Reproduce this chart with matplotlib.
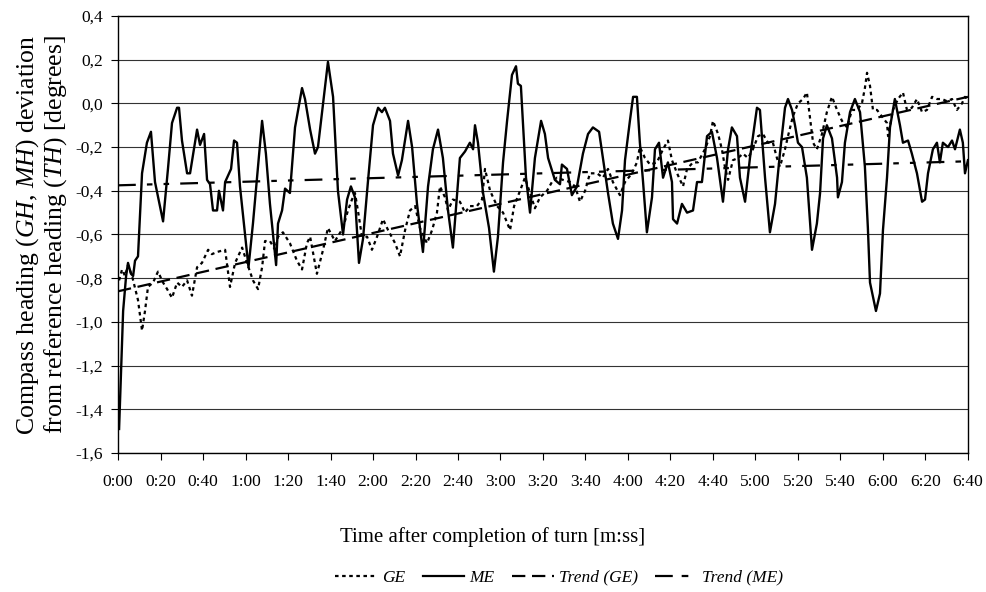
import numpy as np
import matplotlib
matplotlib.use("Agg")
import matplotlib.pyplot as plt
from matplotlib.ticker import FuncFormatter
from matplotlib.lines import Line2D

plt.rcParams['font.family'] = 'Liberation Serif'
plt.rcParams['mathtext.fontset'] = 'custom'
plt.rcParams['mathtext.rm'] = 'Liberation Serif'
plt.rcParams['mathtext.it'] = 'Liberation Serif:italic'

# ME series (time in s, deviation in degrees)
me_t = [0.5, 2.4, 3.8, 4.7, 6.1, 7.1, 8.0, 9.4, 11.3, 13.6, 15.5, 17.4, 21.2, 23.5, 25.4,
        27.8, 28.7, 30.1, 32.5, 33.9, 37.2, 38.6, 40.5, 41.9, 43.3, 44.7, 46.6, 47.5, 49.4,
        50.4, 53.2, 54.6, 56.0, 57.4, 61.4, 63.5, 67.8, 69.6, 71.5, 74.4, 75.3, 77.2, 78.6,
        80.9, 83.3, 86.6, 88.0, 90.4, 92.7, 94.1, 96.5, 98.8, 101.2, 103.5, 105.9, 107.8,
        109.6, 111.5, 113.4, 115.3, 117.6, 120.0, 122.4, 124.2, 125.6, 128.0, 129.4, 131.8,
        133.6, 136.5, 138.4, 140.7, 143.5, 145.9, 148.2, 150.6, 152.9, 155.3, 157.6, 160.9,
        163.3, 165.6, 167.1, 168.0, 169.4, 171.8, 174.6, 176.9, 178.8, 181.2, 183.1, 185.4,
        187.3, 188.2, 189.6, 192.0, 193.9, 196.2, 199.1, 200.9, 202.4, 205.6, 208.0, 208.9,
        211.3, 213.6, 216.0, 218.8, 221.2, 223.5, 226.4, 228.2, 230.6, 232.9, 235.3, 237.2,
        238.6, 240.9, 242.4, 244.2, 245.6, 247.1, 248.9, 251.3, 252.7, 254.6, 256.5, 258.8,
        260.7, 261.2, 263.1, 265.4, 267.8, 270.6, 272.5, 274.8, 277.2, 279.5, 281.9, 284.7,
        287.1, 288.9, 291.3, 292.7, 295.1, 297.4, 300.7, 302.1, 304.5, 306.8, 309.2, 311.5,
        313.9, 315.3, 317.2, 318.6, 320.0, 321.9, 324.2, 326.6, 328.9, 330.4, 331.8, 333.6,
        336.0, 338.4, 338.8, 340.7, 342.1, 344.5, 346.8, 349.2, 351.5, 352.9, 353.9, 356.7,
        358.6, 360.0, 361.9, 363.3, 365.6, 368.0, 369.4, 371.8, 373.6, 376.0, 378.4, 379.8,
        381.2, 383.5, 385.4, 386.8, 388.2, 390.6, 392.5, 393.9, 396.2, 397.6, 398.6, 400.0]
me_v = [-1.49, -0.95, -0.79, -0.73, -0.78, -0.79, -0.72, -0.70, -0.32, -0.18, -0.13, -0.36,
        -0.54, -0.30, -0.09, -0.02, -0.02, -0.17, -0.32, -0.32, -0.12, -0.19, -0.14, -0.35,
        -0.37, -0.49, -0.49, -0.40, -0.49, -0.36, -0.30, -0.17, -0.18, -0.38, -0.75, -0.55,
        -0.08, -0.23, -0.46, -0.74, -0.55, -0.49, -0.39, -0.41, -0.11, 0.07, 0.02, -0.12,
        -0.23, -0.20, 0.00, 0.19, 0.03, -0.40, -0.60, -0.44, -0.38, -0.43, -0.73, -0.62,
        -0.36, -0.10, -0.02, -0.04, -0.02, -0.08, -0.23, -0.33, -0.26, -0.08, -0.20, -0.46,
        -0.68, -0.38, -0.21, -0.12, -0.25, -0.49, -0.66, -0.25, -0.22, -0.18, -0.21, -0.10,
        -0.18, -0.41, -0.57, -0.77, -0.61, -0.27, -0.08, 0.13, 0.17, 0.09, 0.08, -0.34, -0.50,
        -0.25, -0.08, -0.14, -0.25, -0.35, -0.37, -0.28, -0.30, -0.42, -0.38, -0.23, -0.14,
        -0.11, -0.13, -0.25, -0.41, -0.55, -0.62, -0.49, -0.26, -0.08, 0.03, 0.03, -0.18,
        -0.36, -0.59, -0.43, -0.21, -0.18, -0.34, -0.27, -0.36, -0.53, -0.55, -0.46, -0.50,
        -0.49, -0.36, -0.36, -0.15, -0.13, -0.25, -0.45, -0.21, -0.11, -0.15, -0.34, -0.45,
        -0.25, -0.02, -0.03, -0.34, -0.59, -0.46, -0.23, -0.02, 0.02, -0.03, -0.10, -0.18,
        -0.20, -0.34, -0.67, -0.55, -0.41, -0.16, -0.10, -0.16, -0.34, -0.43, -0.36, -0.18,
        -0.04, 0.02, -0.04, -0.29, -0.57, -0.82, -0.95, -0.87, -0.58, -0.34, -0.11, 0.02,
        -0.10, -0.18, -0.17, -0.23, -0.32, -0.45, -0.44, -0.32, -0.21, -0.18, -0.27, -0.18,
        -0.20, -0.17, -0.21, -0.12, -0.18, -0.32, -0.26]

# GE series
ge_t = [0.5, 1.9, 3.3, 4.7, 6.6, 9.4, 11.3, 12.7, 14.1, 16.5, 18.8, 21.2, 23.1, 25.4, 27.8,
        30.1, 32.5, 34.8, 37.2, 39.5, 42.4, 44.2, 46.6, 50.4, 52.7, 55.1, 58.4, 60.7, 63.5,
        65.9, 67.8, 69.2, 71.5, 73.9, 75.3, 77.6, 80.9, 84.2, 86.6, 88.9, 90.4, 93.6, 96.5,
        98.8, 102.1, 105.9, 108.2, 110.1, 111.5, 112.9, 114.8, 117.2, 119.5, 121.9, 124.7,
        127.1, 130.4, 132.7, 135.1, 137.4, 139.8, 142.1, 145.4, 147.8, 150.1, 151.5, 153.9,
        155.3, 157.6, 160.9, 163.3, 165.6, 168.9, 171.3, 172.7, 175.1, 178.4, 181.2, 184.5,
        186.4, 189.2, 191.5, 193.9, 196.2, 198.6, 201.9, 204.2, 206.6, 209.4, 212.7, 215.1,
        217.4, 219.8, 222.1, 225.4, 228.2, 230.6, 232.9, 236.2, 238.6, 241.9, 244.2, 245.6,
        248.0, 250.4, 253.6, 256.5, 258.8, 260.7, 263.1, 265.9, 267.8, 270.6, 272.9, 276.2,
        278.6, 280.0, 282.4, 284.2, 285.6, 287.1, 289.4, 291.8, 294.1, 296.5, 298.8, 301.2,
        303.5, 305.9, 308.2, 310.1, 311.5, 313.9, 315.3, 317.6, 320.0, 322.4, 324.2, 325.6,
        327.1, 328.9, 331.3, 333.6, 336.0, 338.4, 340.7, 343.1, 345.4, 347.8, 350.1, 351.5,
        352.5, 353.9, 355.3, 357.2, 359.5, 361.9, 362.4, 364.7, 367.1, 369.4, 371.3, 373.6,
        376.0, 378.4, 380.7, 383.1, 385.4, 387.8, 390.1, 392.5, 394.8, 397.2, 398.6, 400.0]
ge_v = [-0.81, -0.76, -0.79, -0.74, -0.79, -0.90, -1.04, -0.95, -0.84, -0.82, -0.77, -0.82,
        -0.85, -0.89, -0.82, -0.84, -0.81, -0.88, -0.75, -0.73, -0.67, -0.69, -0.68, -0.67,
        -0.84, -0.73, -0.66, -0.73, -0.81, -0.85, -0.75, -0.63, -0.63, -0.67, -0.61, -0.59,
        -0.64, -0.72, -0.76, -0.64, -0.61, -0.78, -0.67, -0.57, -0.63, -0.57, -0.49, -0.44,
        -0.41, -0.49, -0.61, -0.61, -0.67, -0.61, -0.53, -0.58, -0.64, -0.70, -0.58, -0.49,
        -0.47, -0.57, -0.64, -0.58, -0.50, -0.38, -0.43, -0.49, -0.44, -0.45, -0.50, -0.47,
        -0.47, -0.44, -0.30, -0.40, -0.47, -0.50, -0.58, -0.47, -0.40, -0.34, -0.41, -0.48,
        -0.43, -0.40, -0.36, -0.34, -0.35, -0.36, -0.38, -0.45, -0.40, -0.32, -0.32, -0.34,
        -0.30, -0.36, -0.42, -0.36, -0.32, -0.27, -0.20, -0.25, -0.28, -0.27, -0.21, -0.17,
        -0.26, -0.32, -0.38, -0.30, -0.27, -0.27, -0.21, -0.15, -0.08, -0.14, -0.21, -0.29,
        -0.35, -0.26, -0.25, -0.23, -0.25, -0.21, -0.15, -0.14, -0.18, -0.18, -0.25, -0.29,
        -0.21, -0.15, -0.06, 0.00, 0.02, 0.05, -0.06, -0.18, -0.21, -0.14, -0.04, 0.03, -0.03,
        -0.08, -0.11, -0.03, -0.03, 0.00, 0.07, 0.14, 0.08, -0.03, -0.03, -0.06, -0.09, -0.15,
        -0.03, 0.02, 0.05, -0.03, -0.02, 0.02, -0.04, -0.03, 0.03, 0.02, 0.02, 0.01, 0.02,
        -0.03, 0.00, 0.03, 0.02]

# linear trend lines (end values)
trend_t = [0, 400]
trend_ge = [-0.86, 0.03]
trend_me = [-0.375, -0.265]

xticks = np.arange(0, 401, 20)
xlabels = ["%d:%02d" % (s // 60, s % 60) for s in xticks]
yticks = np.arange(-1.6, 0.41, 0.2)

fig = plt.figure(figsize=(9.86, 5.92), dpi=100)
ax = fig.add_axes([0.1197, 0.2348, 0.862, 0.7382])

ax.plot(ge_t, ge_v, color='black', lw=1.6, linestyle=(0, (1.6, 1.6)), label='GE')
ax.plot(me_t, me_v, color='black', lw=1.7, label='ME')
ax.plot(trend_t, trend_ge, color='black', lw=1.6, linestyle=(0, (6, 3)), label='Trend (GE)')
ax.plot(trend_t, trend_me, color='black', lw=1.6,
        linestyle=(0, (8, 5, 2.5, 5, 2.5, 5)), label='Trend (ME)')

ax.set_xlim(0, 400)
ax.set_ylim(-1.6, 0.4)
ax.set_xticks(xticks)
ax.set_xticklabels(xlabels)
ax.set_yticks(yticks)
ax.yaxis.set_major_formatter(FuncFormatter(lambda v, p: ("%.1f" % v).replace('.', ',').replace('-0,0', '0,0')))
ax.grid(axis='y', color='#333333', lw=0.8)
ax.set_axisbelow(True)
for s in ax.spines.values():
    s.set_color('black')
    s.set_linewidth(1.0)
ax.tick_params(axis='both', direction='out', length=5, width=0.8, labelsize=12.5, pad=6)
ax.tick_params(axis='x', pad=10)

fig.text(0.5, 1 - 537 / 592, 'Time after completion of turn [m:ss]', fontsize=15,
         ha='center', va='center')
fig.text(0.042, 1 - 235 / 592,
         "Compass heading ($GH$, $MH$) deviation\nfrom reference heading ($TH$) [degrees]",
         fontsize=18.5, rotation=90, ha='center', va='center', multialignment='center',
         linespacing=1.05)

handles = [Line2D([], [], color='black', lw=1.6, linestyle=(0, (1.6, 1.6))),
           Line2D([], [], color='black', lw=1.6),
           Line2D([], [], color='black', lw=1.6, linestyle=(0, (6, 3))),
           Line2D([], [], color='black', lw=1.6, linestyle=(0, (8, 4, 3, 4)))]
fig.legend(handles, ['GE', 'ME', 'Trend (GE)', 'Trend (ME)'], loc='center',
           bbox_to_anchor=(0.567, 0.024), ncol=4, frameon=False, handlelength=2.4,
           handletextpad=0.3, columnspacing=1.0, prop={'style': 'italic', 'size': 12.5})

fig.savefig('out.png', dpi=100)
